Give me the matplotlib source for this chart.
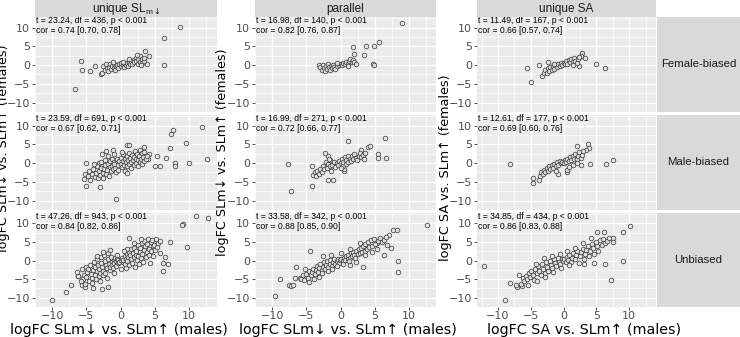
import matplotlib.pyplot as plt
import numpy as np

col_titles = [r"unique SL$_{\mathregular{m}\downarrow}$", "parallel", "unique SA"]
row_titles = ["Female-biased", "Male-biased", "Unbiased"]
xlabels = ["logFC SLm\u2193 vs. SLm\u2191 (males)", "logFC SLm\u2193 vs. SLm\u2191 (males)",
           "logFC SA vs. SLm\u2191 (males)"]
ylabels = ["logFC SLm\u2193 vs. SLm\u2191 (females)", "logFC SLm\u2193 vs. SLm\u2191 (females)",
           "logFC SA vs. SLm\u2191 (females)"]

stats_t = [["t = 23.24, df = 436, p < 0.001", "t = 16.98, df = 140, p < 0.001", "t = 11.49, df = 167, p < 0.001"],
           ["t = 23.59, df = 691, p < 0.001", "t = 16.99, df = 271, p < 0.001", "t = 12.61, df = 177, p < 0.001"],
           ["t = 47.26, df = 943, p < 0.001", "t = 33.58, df = 342, p < 0.001", "t = 34.85, df = 434, p < 0.001"]]
stats_cor = [["cor = 0.74 [0.70, 0.78]", "cor = 0.82 [0.76, 0.87]", "cor = 0.66 [0.57, 0.74]"],
             ["cor = 0.67 [0.62, 0.71]", "cor = 0.72 [0.66, 0.77]", "cor = 0.69 [0.60, 0.76]"],
             ["cor = 0.84 [0.82, 0.86]", "cor = 0.88 [0.85, 0.90]", "cor = 0.86 [0.83, 0.88]"]]

# points (x = males, y = females)
fb_sld = [(8.75, 10.1), (6.4, 7.3), (3.6, 3.8), (4.2, 2.5), (3.9, 0.3), (6.4, 0.0), (-5.8, 1.0), (-5.7, -1.3),
          (-4.4, -1.5), (-3.75, -0.3), (-2.9, -2.5), (-2.7, -2.2), (-6.7, -6.4),
          (-2.5, -0.3), (-2.3, -1.2), (-2.1, 0.2), (-2.0, -0.8), (-1.8, -1.5), (-1.7, -0.4), (-1.5, 0.3),
          (-1.4, -1.0), (-1.2, -0.2), (-1.0, -0.7), (-0.9, 0.4), (-0.8, -1.3), (-0.6, -0.3), (-0.5, 0.1),
          (-0.4, -0.8), (-0.2, 0.3), (0.0, -0.2), (0.1, 0.5), (0.3, 0.0), (0.5, -0.4), (0.6, 0.4), (0.8, 0.1),
          (1.0, 0.6), (1.1, -0.2), (1.3, 0.9), (1.4, 0.3), (1.6, 1.1), (1.7, 0.4), (1.9, 1.4), (2.0, 0.7),
          (2.2, 1.9), (2.3, 1.0), (2.5, 0.2), (2.6, 1.5), (2.8, 2.3), (2.9, 0.9), (3.1, 1.7), (3.2, 0.5),
          (3.4, 1.2), (3.5, 2.0), (1.2, 1.6), (0.4, 0.9), (-1.1, 0.8), (2.4, 2.6), (3.0, -0.1)]
fb_par = [(8.9, 11.1), (1.8, 4.7), (3.7, 5.2), (4.8, 5.2), (5.6, 6.1), (2.0, 2.9), (3.4, 2.7), (4.7, 0.2),
          (4.8, 0.0), (-3.2, 0.1), (-3.0, -0.5), (-2.8, -1.2), (-2.6, 0.0), (-2.5, -0.8), (-2.3, -1.6),
          (-2.2, -0.3), (-2.0, -1.0), (-1.9, 0.2), (-1.7, -0.6), (-1.6, -1.3), (-1.4, -0.2), (-1.3, -0.9),
          (-1.1, 0.1), (-1.0, -0.5), (-0.8, -1.1), (-0.6, -0.2), (-0.3, 0.0), (0.0, 0.3), (0.2, -0.1),
          (0.4, 0.5), (0.6, 0.2), (0.8, 0.8), (1.0, 0.4), (1.2, 1.1), (1.4, 1.6), (1.6, 0.7), (1.8, 1.3),
          (2.0, 0.9), (2.2, 0.2), (1.1, -0.3), (-0.5, 0.6)]
fb_sa = [(-5.6, -0.7), (-3.7, -0.1), (-4.9, -4.6), (-3.3, -2.9), (-2.3, 0.8), (5.0, 0.2), (6.3, -0.9),
         (2.8, 3.3), (3.3, 2.0), (2.6, 2.4), (2.4, -0.3),
         (-3.0, -2.0), (-2.8, -1.3), (-2.6, -2.2), (-2.4, -0.8), (-2.2, -1.6), (-2.0, -0.5), (-1.8, -1.2),
         (-1.6, -0.2), (-1.4, -1.0), (-1.2, 0.1), (-1.0, -0.6), (-0.8, 0.3), (-0.6, -0.3), (-0.4, 0.5),
         (-0.2, 0.0), (0.0, 0.6), (0.2, 0.2), (0.4, 1.0), (0.6, 0.4), (0.8, 1.3), (1.0, 0.7), (1.2, 1.6),
         (1.4, 0.9), (1.6, 1.9), (1.8, 1.2), (2.0, 0.6), (2.2, 1.6), (2.4, 2.2), (1.5, 0.1), (-1.5, 0.4)]

mb_sld = [(11.9, 9.7), (12.7, 1.0), (7.7, 8.8), (7.4, 7.7), (9.6, 5.3), (7.2, 4.0), (10.0, 0.1), (7.9, 0.1),
          (8.0, -0.9), (6.7, 1.4), (5.4, 1.8), (5.8, -0.9), (5.0, -0.8), (-0.7, -9.6), (-5.0, 0.1),
          (-5.0, -6.1), (-3.0, -6.5), (-5.2, -2.8), (-5.3, -4.3), (-3.2, 0.1), (0.9, 4.9), (1.3, 4.9),
          (-1.1, 3.6), (-2.1, 3.2), (3.5, 4.4), (4.1, 2.3), (4.0, 1.0),
          (-4.8, -3.5), (-4.6, -2.2), (-4.4, -4.5), (-4.2, -3.0), (-4.0, -1.6), (-3.8, -3.8), (-3.6, -2.6),
          (-3.5, -0.9), (-3.3, -4.1), (-3.2, -2.0), (-3.0, -3.2), (-2.9, -1.2), (-2.8, 0.4), (-2.6, -2.6),
          (-2.5, -3.9), (-2.4, -1.5), (-2.3, 0.9), (-2.2, -0.5), (-2.1, -2.9), (-2.0, -1.8), (-1.9, 1.8),
          (-1.8, -0.2), (-1.7, -3.4), (-1.6, -1.0), (-1.5, 0.6), (-1.4, -2.1), (-1.3, 1.2), (-1.2, -0.7),
          (-1.1, -1.6), (-1.0, 0.3), (-0.9, 2.4), (-0.8, -1.2), (-0.7, -2.4), (-0.6, 0.0), (-0.5, 1.0),
          (-0.4, -0.6), (-0.3, -1.8), (-0.2, 0.5), (-2.7, 2.5), (-3.9, -0.3), (-1.0, -0.2),
          (0.0, -0.3), (0.1, 1.4), (0.2, -1.1), (0.3, 0.6), (0.4, 2.3), (0.5, -0.5), (0.6, 1.0), (0.7, -2.0),
          (0.8, 0.2), (0.9, 1.8), (1.0, -0.8), (1.1, 0.8), (1.2, 2.8), (1.3, -0.2), (1.4, 1.4), (1.5, 0.4),
          (1.6, -1.3), (1.7, 2.1), (1.8, 0.9), (1.9, -0.4), (2.0, 1.5), (2.1, 3.2), (2.2, 0.1), (2.3, 1.1),
          (2.4, 2.4), (2.5, -0.7), (2.6, 0.7), (2.7, 1.8), (2.8, 3.6), (2.9, 0.3), (3.0, 1.2), (3.1, 2.6),
          (3.2, -0.2), (3.3, 1.6), (3.4, 0.6), (3.5, 2.9), (3.7, 1.0), (3.9, 2.0), (0.2, 3.0), (1.0, -2.6)]
mb_par = [(6.5, 6.7), (6.6, 1.4), (5.5, 2.3), (5.5, 1.4), (1.0, 6.0), (-7.7, -0.3), (-7.3, -7.4),
          (-4.2, -6.1), (-1.8, -4.4), (-1.1, -4.6), (-4.2, -0.9), (4.0, 4.4), (4.3, 4.6), (3.0, 3.6),
          (0.5, -2.1), (0.5, -1.7),
          (-4.0, -3.1), (-3.8, -2.4), (-3.6, -3.4), (-3.4, -2.0), (-3.2, -2.8), (-3.0, -1.5), (-2.8, -2.3),
          (-2.6, -0.8), (-2.4, -1.7), (-2.2, 0.3), (-2.0, -1.2), (-1.9, 1.9), (-1.8, -0.2), (-1.6, -0.9),
          (-1.5, 0.8), (-1.4, -2.0), (-1.2, -0.4), (-1.0, 0.4), (-0.8, -1.1), (-0.6, 0.1), (-0.4, -0.5),
          (-0.2, 0.6), (0.0, 0.0), (0.2, 1.0), (0.3, -0.7), (0.4, 0.4), (0.6, 1.5), (0.7, -0.2), (0.8, 0.8),
          (1.0, 2.0), (1.1, 0.3), (1.3, 1.2), (1.5, 0.6), (1.6, 1.8), (1.8, 1.0), (2.0, 2.3), (2.2, 1.4),
          (2.4, 0.8), (2.6, 1.9), (2.8, 2.8), (3.0, 1.5), (3.2, 2.2), (3.4, 1.2), (3.6, 2.6), (-2.3, 2.6),
          (-1.7, 1.2), (0.1, -1.3)]
mb_sa = [(-8.2, -0.2), (6.5, -0.2), (7.5, 0.7), (4.0, -0.2), (2.7, -0.5), (3.7, 5.0), (2.0, 4.5), (3.9, 4.0),
         (3.4, 3.5), (-4.6, -5.3), (-3.8, -4.4), (-4.6, -3.9), (-0.9, -3.0), (0.5, -2.4), (0.5, -1.8),
         (-3.6, -3.4), (-3.4, -2.5), (-3.2, -2.9), (-3.0, -1.8), (-2.8, -2.4), (-2.6, -1.4), (-2.4, -2.0),
         (-2.2, -0.9), (-2.0, -1.6), (-1.8, -0.5), (-1.6, -1.2), (-1.4, -0.2), (-1.2, -0.8), (-1.0, 0.2),
         (-0.8, -0.4), (-0.6, 0.5), (-0.4, -0.1), (-0.2, 0.3), (0.0, 0.0), (0.2, 0.7), (0.4, 0.3), (0.6, 1.1),
         (0.8, 0.5), (1.0, 1.5), (1.2, 0.8), (1.4, 1.9), (1.6, 1.2), (1.8, 2.4), (2.0, 1.0), (2.2, 1.8),
         (2.4, 2.9), (2.6, 1.4), (2.8, 2.2), (3.0, 3.1), (1.5, -0.6), (0.9, -1.0), (-1.1, -2.0), (2.0, 0.0)]

ub_sld = [(-10.0, -10.5), (-7.9, -8.5), (-7.3, -6.6), (-5.7, -6.6), (-5.2, -7.0), (-4.0, -7.3), (-2.7, -7.6),
          (-1.9, -7.2), (-6.25, -4.2), (1.2, 6.2), (9.1, 9.9), (11.0, 11.9), (12.8, 11.4), (9.0, 9.6),
          (9.7, 3.6), (7.3, 4.9), (6.5, 1.0), (6.25, -0.7), (6.15, -2.7), (6.9, -1.0),
          (-5.6, -2.3), (-5.4, -3.8), (-5.5, -4.9), (-5.1, -1.6), (-4.9, -3.0), (-5.0, -4.4), (-4.7, -2.2),
          (-4.6, -5.5), (-4.4, -1.1), (-4.3, -3.5), (-4.2, -4.7), (-4.0, -2.6), (-3.9, -0.4), (-3.8, -3.9),
          (-3.7, -1.7), (-3.6, -5.0), (-3.5, -2.9), (-3.4, 0.3), (-3.3, -1.2), (-3.2, -4.2), (-3.1, -2.3),
          (-3.0, -3.4), (-2.9, 0.9), (-2.8, -0.7), (-2.7, -1.8), (-2.6, -4.0), (-2.5, -2.7), (-2.4, 1.4),
          (-2.3, -0.2), (-2.2, -3.3), (-2.1, -1.3), (-2.0, -2.1), (-1.9, 1.9), (-1.8, 0.4), (-1.7, -0.8),
          (-1.6, -2.6), (-1.5, -1.6), (-1.4, 0.9), (-1.3, -0.3), (-1.2, -1.1), (-1.1, -2.0), (-1.0, 0.2),
          (-0.9, -0.6), (-0.8, 0.8), (-0.7, -1.4), (-0.6, -0.1), (-0.5, 0.5), (-0.4, -0.7), (-0.3, 0.2),
          (-0.2, -0.3), (0.0, 0.1), (0.2, 0.6), (0.3, -0.4), (0.4, 0.2), (0.6, 1.1), (0.7, -0.8), (0.8, 0.5),
          (0.9, 1.8), (1.0, -0.2), (1.1, 0.9), (1.2, 2.4), (1.3, -1.3), (1.4, 1.4), (1.5, 0.3), (1.6, 3.0),
          (1.7, -0.6), (1.8, 2.0), (1.9, 0.9), (2.0, 3.5), (2.1, -1.7), (2.2, 1.5), (2.3, 2.7), (2.4, 0.2),
          (2.5, 4.1), (2.6, 1.2), (2.7, -0.8), (2.8, 2.2), (2.9, 3.3), (3.0, 0.6), (3.1, 4.6), (3.2, 1.7),
          (3.3, -0.3), (3.4, 2.8), (3.5, 5.2), (3.6, 3.8), (3.7, 1.0), (3.8, 2.3), (3.9, 4.4), (4.0, 5.8),
          (4.1, 1.6), (4.2, 3.2), (4.3, -0.6), (4.4, 4.9), (4.5, 2.6), (4.6, 5.6), (4.7, 3.8), (4.8, 1.3),
          (4.9, 4.3), (5.0, 2.9), (5.2, 5.9), (5.3, 3.6), (5.5, 4.8), (5.7, 2.1), (5.8, 5.3), (-6.2, -4.2),
          (-5.8, -5.6), (-5.2, -6.3), (-4.1, -6.0), (-3.0, -5.6), (-2.0, -4.8), (-1.0, -3.4), (0.0, -2.2),
          (1.0, 3.1), (2.0, 4.6), (3.0, 5.9), (-3.5, 1.3), (-2.5, 2.2), (-1.5, 2.8), (-0.5, 1.6), (0.5, 2.6),
          (0.8, -2.1), (-6.4, -3.0)]
ub_par = [(-9.6, -9.6), (-8.8, -4.9), (-7.5, -6.6), (-7.2, -6.9), (-6.9, -6.6), (-6.7, -4.7), (-6.0, -4.7),
          (-6.5, -1.8), (-4.5, 2.7), (-5.2, -2.3), (12.6, 9.6), (7.7, 8.1), (8.2, 8.1), (7.0, 7.0),
          (8.4, -0.1), (8.4, -3.1), (6.3, 1.6), (7.4, 3.4), (3.3, -1.8), (1.4, -1.1), (5.3, 4.6), (5.7, 5.5),
          (-5.8, -4.9), (-5.5, -4.0), (-5.3, -5.3), (-5.0, -3.6), (-4.8, -4.6), (-4.6, -2.9), (-4.4, -3.9),
          (-4.2, -3.2), (-4.0, -2.2), (-3.8, -3.6), (-3.6, -2.6), (-3.5, -1.4), (-3.3, -3.0), (-3.1, -2.0),
          (-3.0, -0.9), (-2.8, -2.6), (-2.6, -1.6), (-2.5, -0.5), (-2.3, -2.2), (-2.1, -1.2), (-2.0, -0.2),
          (-1.8, -1.8), (-1.6, -0.8), (-1.5, 0.1), (-1.3, -1.4), (-1.1, -0.5), (-1.0, 0.3), (-0.8, -0.9),
          (-0.6, -0.2), (-0.4, 0.4), (-0.3, -0.6), (-0.1, 0.1), (0.1, 0.5), (0.3, -0.1), (0.5, 0.8),
          (0.6, 0.2), (0.8, 1.2), (1.0, 0.5), (1.1, 1.6), (1.3, 0.8), (1.5, 1.9), (1.6, 1.1), (1.8, 2.3),
          (2.0, 1.4), (2.1, 0.6), (2.3, 2.7), (2.5, 1.7), (2.6, 3.1), (2.8, 2.0), (3.0, 3.5), (3.1, 2.3),
          (3.3, 4.0), (3.5, 2.7), (3.6, 4.4), (3.8, 3.1), (4.0, 5.0), (4.2, 3.6), (4.4, 5.4), (4.6, 4.0),
          (4.8, 5.8), (5.0, 4.5), (5.3, 3.2), (5.5, 5.2), (5.8, 6.1), (6.0, 4.9), (6.3, 5.6), (6.6, 6.3),
          (6.8, 4.3), (-4.6, -5.8), (-3.9, -4.9), (-3.2, -4.3), (-2.7, -3.4), (-1.9, -2.8), (-1.2, -2.2),
          (-0.5, -1.5), (0.4, -0.9), (1.2, -0.2), (2.2, -0.5), (3.6, 1.5), (4.5, 2.2), (-2.6, 1.2),
          (-1.4, 1.5), (0.0, 2.1), (1.4, 3.1), (2.8, 4.6)]
ub_sa = [(-12.1, -1.4), (-8.9, -10.5), (-8.2, -6.0), (-7.1, -7.2), (-6.4, -6.8), (10.2, 9.4), (9.0, 7.7),
         (9.0, -0.1), (7.2, -5.3), (7.5, 6.0), (5.1, 7.7), (6.1, 7.6), (6.3, -0.8), (4.7, -0.6), (3.1, -1.0),
         (-6.5, -6.2), (-6.2, -4.8), (-6.0, -5.6), (-5.7, -4.2), (-5.5, -5.0), (-5.3, -3.4), (-5.1, -4.5),
         (-4.9, -2.7), (-4.7, -3.8), (-4.5, -5.2), (-4.3, -2.2), (-4.1, -3.3), (-3.9, -1.5), (-3.7, -2.8),
         (-3.5, -4.0), (-3.3, -0.9), (-3.1, -2.2), (-2.9, -3.3), (-2.7, -0.5), (-2.5, -1.7), (-2.3, -2.7),
         (-2.1, 0.0), (-1.9, -1.2), (-1.7, -2.1), (-1.5, 0.4), (-1.3, -0.7), (-1.1, -1.5), (-0.9, 0.6),
         (-0.7, -0.3), (-0.5, -1.0), (-0.3, 0.3), (-0.1, -0.2), (0.1, 0.4), (0.3, -0.4), (0.5, 0.9),
         (0.7, 0.1), (0.9, 1.5), (1.1, -0.3), (1.3, 0.8), (1.5, 2.0), (1.7, 0.4), (1.9, 1.4), (2.1, 2.6),
         (2.3, -0.7), (2.5, 1.1), (2.7, 2.2), (2.9, 3.2), (3.1, 0.5), (3.3, 1.8), (3.5, 2.9), (3.7, 3.9),
         (3.9, 1.2), (4.1, 2.6), (4.3, 4.5), (4.5, 3.4), (4.7, 1.8), (4.9, 5.0), (5.1, 3.9), (5.3, 2.5),
         (5.5, 5.4), (5.8, 4.3), (6.0, 5.9), (6.3, 4.8), (6.6, 5.3), (7.0, 6.2), (7.5, 5.0), (-7.2, -6.6),
         (-6.8, -4.0), (-5.4, -6.5), (-4.0, -5.5), (-2.8, -4.4), (-1.6, -3.1), (-0.4, -1.9), (0.8, -1.2),
         (-4.2, -0.8), (-3.0, 0.8), (-1.8, 1.3), (-0.6, 1.8), (0.6, 2.5), (1.8, 3.4), (3.0, 4.8), (4.2, 6.1)]

panels = [[fb_sld, fb_par, fb_sa], [mb_sld, mb_par, mb_sa], [ub_sld, ub_par, ub_sa]]

W, H = 740, 337
fig = plt.figure(figsize=(W / 100, H / 100), dpi=100)

def box(l, t, r, b):
    return [l / W, 1 - b / H, (r - l) / W, (b - t) / H]

col_x = [(35, 217), (255, 436), (477, 656)]
row_y = [(17, 112), (115, 210), (213, 307)]
xlims = [(-11.3, 14.1), (-11.4, 13.9), (-13.2, 14.1)]
ylim = (-11.4, 12.8)
ticks = [-10, -5, 0, 5, 10]
minor = [-7.5, -2.5, 2.5, 7.5, -12.5, 12.5]
strip_bg = "#D9D9D9"
sans = "Liberation Sans"

for i in range(3):
    for j in range(3):
        (l, r), (t, b) = col_x[j], row_y[i]
        ax = fig.add_axes(box(l, t, r, b))
        ax.set_facecolor("#EBEBEB")
        for s in ax.spines.values():
            s.set_visible(False)
        ax.set_xlim(*xlims[j])
        ax.set_ylim(*ylim)
        ax.set_xticks(ticks)
        ax.set_yticks(ticks)
        ax.set_xticks(minor, minor=True)
        ax.set_yticks(minor, minor=True)
        ax.grid(True, which="major", color="white", lw=1.0)
        ax.grid(True, which="minor", color="white", lw=0.5)
        ax.set_axisbelow(True)
        ax.tick_params(which="minor", length=0)
        ax.tick_params(which="major", length=2.5, width=0.6, color="#333333",
                       labelsize=8, labelcolor="#4D4D4D", pad=1.5)
        ax.tick_params(axis="x", pad=0.5)
        ax.tick_params(axis="y", pad=1.0)
        if i < 2:
            ax.tick_params(axis="x", labelbottom=False, length=0)
        pts = np.array(panels[i][j])
        ax.scatter(pts[:, 0], pts[:, 1], s=11, facecolors="#E4E4E4", edgecolors="#333333",
                   linewidths=0.55, alpha=0.9, zorder=3)
        ax.text(0.005, 0.958, stats_t[i][j], transform=ax.transAxes, fontsize=6.2, family=sans,
                va="center", ha="left", color="black", zorder=4)
        ax.text(0.005, 0.853, stats_cor[i][j], transform=ax.transAxes, fontsize=6.2, family=sans,
                va="center", ha="left", color="black", zorder=4)

# column strips
for j in range(3):
    l, r = col_x[j]
    sax = fig.add_axes(box(l, 0, r, 17))
    sax.set_facecolor(strip_bg)
    sax.set_xticks([]); sax.set_yticks([])
    for s in sax.spines.values():
        s.set_visible(False)
    sax.text(0.5, 0.45, col_titles[j], ha="center", va="center", fontsize=8.5, family=sans, color="#1A1A1A")

# row strips (only on the right column)
for i in range(3):
    t, b = row_y[i]
    sax = fig.add_axes(box(657, t, 740, b))
    sax.set_facecolor(strip_bg)
    sax.set_xticks([]); sax.set_yticks([])
    for s in sax.spines.values():
        s.set_visible(False)
    sax.text(0.5, 0.5, row_titles[i], ha="center", va="center", fontsize=8.2, family=sans, color="#1A1A1A")

# axis titles
xlab_cx = [119, 348, 584]
ylab_x = [4, 223, 445]
ylab_cy = [148, 152, 168]
for j in range(3):
    fig.text(xlab_cx[j] / W, 1 - 330 / H, xlabels[j], ha="center", va="center", fontsize=10.3)
    fig.text(ylab_x[j] / W, 1 - ylab_cy[j] / H, ylabels[j], ha="center", va="center",
             rotation=90, fontsize=9.2)

fig.savefig("out.png", dpi=100)
